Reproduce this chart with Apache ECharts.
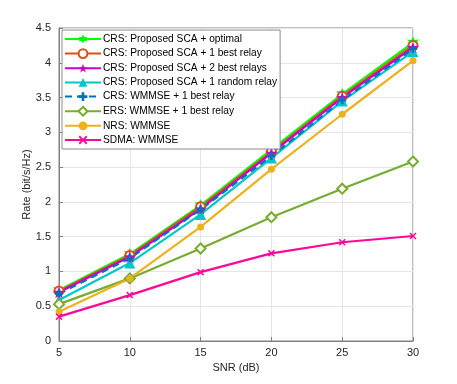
<!DOCTYPE html>
<html>
<head>
<meta charset="utf-8">
<script src="https://cdn.jsdelivr.net/npm/echarts@6/dist/echarts.min.js"></script>
<style>
html, body { margin: 0; padding: 0; background: #fff; }
#chart { width: 457px; height: 384px; }
</style>
</head>
<body>
<div id="chart"></div>
<script>
var snr = [5, 10, 15, 20, 25, 30];

var crsOptimal  = [0.73, 1.25, 1.95, 2.75, 3.55, 4.29];
var crsBest1    = [0.72, 1.23, 1.93, 2.72, 3.52, 4.25];
var crsBest2    = [0.70, 1.21, 1.90, 2.70, 3.50, 4.22];
var crsRandom   = [0.59, 1.12, 1.82, 2.63, 3.45, 4.16];
var crsWmmse    = [0.68, 1.19, 1.89, 2.66, 3.46, 4.20];
var ersWmmse    = [0.53, 0.90, 1.33, 1.78, 2.19, 2.58];
var nrsWmmse    = [0.42, 0.90, 1.64, 2.47, 3.26, 4.03];
var sdmaWmmse   = [0.35, 0.66, 0.99, 1.26, 1.42, 1.51];

var starPath = 'path://M0,-10L2.4,-3.3L9.5,-3.1L3.8,1.2L5.9,8.1L0,4L-5.9,8.1L-3.8,1.2L-9.5,-3.1L-2.4,-3.3Z';
var hexPath = 'path://M0,-10L2.5,-4.3L8.7,-5L5,0L8.7,5L2.5,4.3L0,10L-2.5,4.3L-8.7,5L-5,0L-8.7,-5L-2.5,-4.3Z';
var crossPath = 'path://M-10,-7L-7,-10L0,-3L7,-10L10,-7L3,0L10,7L7,10L0,3L-7,10L-10,7L-3,0Z';
var plusPath = 'path://M-3,-10L3,-10L3,-3L10,-3L10,3L3,3L3,10L-3,10L-3,3L-10,3L-10,-3L-3,-3Z';

function pairs(vals) {
    var out = [];
    for (var i = 0; i < snr.length; i++) out.push([snr[i], vals[i]]);
    return out;
}

function mkSeries(name, vals, color, symbol, size, dashed, hollow) {
    return {
        name: name,
        type: 'line',
        data: pairs(vals),
        symbol: symbol,
        symbolSize: size,
        showSymbol: true,
        animation: false,
        lineStyle: { color: color, width: 2.2, type: dashed ? [7, 5] : 'solid' },
        itemStyle: {
            color: hollow ? '#fff' : color,
            borderColor: color,
            borderWidth: hollow ? 2 : 0
        }
    };
}

var chart = echarts.init(document.getElementById('chart'));

var axisColor = '#808080';
var textStyle = { fontFamily: 'Liberation Sans, Arial, sans-serif', color: '#262626', fontSize: 11 };

var option = {
    backgroundColor: '#fff',
    textStyle: textStyle,
    grid: { left: 59, right: 44, top: 28, bottom: 43, show: true, borderColor: axisColor, borderWidth: 1 },
    legend: {
        orient: 'vertical',
        left: 62,
        top: 30,
        padding: [4, 3, 4, 2],
        itemGap: 4.2,
        itemWidth: 36,
        itemHeight: 11,
        backgroundColor: '#fff',
        borderColor: '#8c8c8c',
        borderWidth: 1,
        borderRadius: 0,
        textStyle: { fontFamily: 'Liberation Sans, Arial, sans-serif', fontSize: 10.2, color: '#000', padding: [0, 0, 0, -3] }
    },
    xAxis: {
        type: 'value',
        min: 5, max: 30, interval: 5,
        name: 'SNR (dB)',
        nameLocation: 'middle',
        nameGap: 21,
        nameMoveOverlap: false,
        nameTextStyle: { fontSize: 11, color: '#262626' },
        axisLine: { show: true, lineStyle: { color: axisColor } },
        axisTick: { show: true, inside: true, length: 4, lineStyle: { color: axisColor } },
        axisLabel: { fontSize: 11, color: '#262626', margin: 6 },
        splitLine: { show: true, lineStyle: { color: '#e6e6e6', width: 1 } }
    },
    yAxis: {
        type: 'value',
        min: 0, max: 4.5, interval: 0.5,
        name: 'Rate (bit/s/Hz)',
        nameLocation: 'middle',
        nameGap: 27,
        nameMoveOverlap: false,
        nameTextStyle: { fontSize: 11, color: '#262626' },
        axisLine: { show: true, lineStyle: { color: axisColor } },
        axisTick: { show: true, inside: true, length: 4, lineStyle: { color: axisColor } },
        axisLabel: { fontSize: 11, color: '#262626', margin: 8 },
        splitLine: { show: true, lineStyle: { color: '#e6e6e6', width: 1 } }
    },
    series: [
        mkSeries('CRS: Proposed SCA + optimal', crsOptimal, '#00ff00', hexPath, 12, false, false),
        mkSeries('CRS: Proposed SCA + 1 best relay', crsBest1, '#d95319', 'circle', 9, false, true),
        mkSeries('CRS: Proposed SCA + 2 best relays', crsBest2, '#cc00cc', starPath, 12, false, false),
        mkSeries('CRS: Proposed SCA + 1 random relay', crsRandom, '#00c8c8', 'triangle', 11, false, false),
        mkSeries('CRS: WMMSE + 1 best relay', crsWmmse, '#0072bd', plusPath, 8, true, false),
        mkSeries('ERS: WMMSE + 1 best relay', ersWmmse, '#77ac30', 'diamond', 10, false, true),
        mkSeries('NRS: WMMSE', nrsWmmse, '#edb120', 'circle', 7, false, false),
        mkSeries('SDMA: WMMSE', sdmaWmmse, '#ff0899', crossPath, 7, false, false)
    ]
};

chart.setOption(option);

window.onresize = function() {
    chart.resize();
};
</script>
</body>
</html>
